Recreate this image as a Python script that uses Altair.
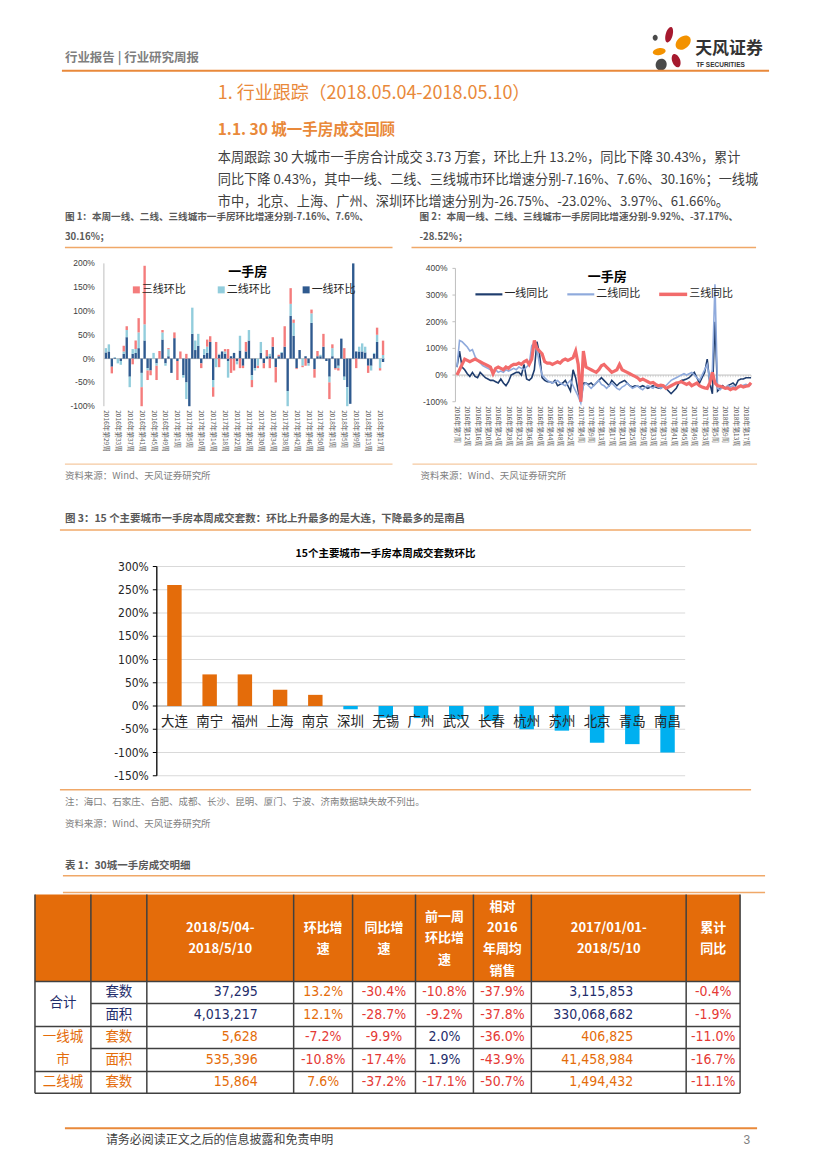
import altair as alt
import pandas as pd

# ======================================================================
# DATA
# ======================================================================
# --- 图1: 一手房环比 (stacked columns, %) ---
hb_week_labels = ["2016年第29周", "2016年第33周", "2016年第37周", "2016年第41周", "2016年第45周",
                  "2016年第49周", "2017年第1周", "2017年第5周", "2017年第10周", "2017年第14周",
                  "2017年第18周", "2017年第22周", "2017年第26周", "2017年第30周", "2017年第34周",
                  "2017年第38周", "2017年第42周", "2017年第46周", "2017年第50周", "2018年第1周",
                  "2018年第5周", "2018年第9周", "2018年第13周", "2018年第17周"]
hb_tier1 = [13, 15, -17, 2, 0, -5, 10, 45, -38, 10,
            12, 22, -30, 38, -20, -25, 0, -10, 0, 40,
            -10, 5, -30, 43, -5, 0, -35, -50, -100, 52,
            18, 27, -10, 8, 12, 35, -45, 0, 8, 15,
            10, -5, 5, 12, -5, 17, -15, 15, 38, -35,
            -20, 0, 12, -10, 5, 5, 25, -18, 5, 12,
            25, -68, 90, 48, -20, 18, 0, 5, -10, 75,
            -22, 5, 5, 25, -5, -38, 5, -20, -15, 42,
            -38, -60, -95, 200, 15, 15, 15, 13, -15, -15,
            10, 35, 0, -7.16]
hb_tier2 = [9, 15, 0, 1, -10, -8, 5, 15, -22, 10,
            8, 33, -30, 34, -5, 0, 12, -5, 0, 15,
            -5, 15, 0, 0, 0, 0, -5, -35, 0, 55,
            20, 25, 0, 12, 13, 0, -15, -18, 2, 0,
            5, -35, 0, 0, -7, 31, 0, 0, 22, -10,
            -5, -15, 23, 0, 0, 5, 0, 0, 0, 2,
            0, -32, 25, 27, 0, 0, -15, 0, -5, 20,
            0, 0, 3, 0, 0, -12, 17, 0, -5, 0,
            -7, -40, 0, 0, 0, 10, 17, 12, 0, -10,
            2, 15, -20, 7.6]
hb_tier3 = [0, 0, -14, 0, 0, 0, 12, 8, 0, -12,
            18, 30, -40, 123, -20, -10, 0, -30, 16, 5,
            0, 2, 0, 12, -40, 15, 0, 10, 0, 0,
            0, 0, -10, 0, 15, 12, -20, 35, -18, 0,
            5, 20, -30, -25, 0, -20, -5, 20, 0, -15,
            0, -5, 0, -10, 13, -20, 20, -32, 3, 0,
            43, 0, 33, 7, -2, 0, -3, -15, 0, 8,
            -18, 11, 0, 27, 0, -35, 8, -3, -5, 0,
            22, 0, 0, 0, -20, 0, 0, 0, -15, 0,
            0, 15, -5, 30.16]
hb_series = ["一线环比", "二线环比", "三线环比"]
hb_y_ticks = [200, 150, 100, 50, 0, -50, -100]

# --- 图2: 一手房同比 (lines, %) ---
yoy_week_labels = ["2016年第7周", "2016年第12周", "2016年第16周", "2016年第20周", "2016年第24周",
                   "2016年第28周", "2016年第32周", "2016年第36周", "2016年第40周", "2016年第44周",
                   "2016年第48周", "2016年第52周", "2017年第4周", "2017年第9周", "2017年第13周",
                   "2017年第17周", "2017年第21周", "2017年第25周", "2017年第29周", "2017年第33周",
                   "2017年第37周", "2017年第41周", "2017年第45周", "2017年第49周", "2017年第53周",
                   "2018年第5周", "2018年第9周", "2018年第13周", "2018年第17周"]
yoy_tier1 = [30, 90, 30, 20, 5, -5, 10, -5, -10, 10,
             0, -10, -15, -20, -20, -25, -30, -15, -30, -40,
             -25, 0, 5, 10, 10, 0, 40, -15, -20, -10,
             20, 125, 80, -10, -20, -25, -25, -30, -20, -40,
             -35, -30, -20, -40, -60, 20, -10, -60, -100, -30,
             -30, -35, -30, -40, -30, -20, -10, -20, -30, -40,
             -20, -30, -40, -30, -25, -20, -30, -40, -45, -40,
             -42, -45, -40, -45, -50, -45, -40, -45, -48, -50,
             -40, -50, -60, -70, -60, -50, -30, -20, -18, -15,
             -10, 0, 10, -10, -30, -10, 10, 60, -30, -70,
             200, -60, -50, -40, -50, -40, -35, -30, -40, -20,
             -15, -15, -10, -10, -9.92]
yoy_tier2 = [30, 130, 125, 115, 105, 90, 95, 70, 55, 45,
             35, 30, 25, 20, 15, 20, 10, 15, 10, 20,
             15, 20, 25, 20, 30, 25, 20, 30, 40, 110,
             120, 95, 40, 0, -10, -20, -25, -30, -25, -20,
             -30, -35, -40, -30, -20, -40, -60, -80, -105, -40,
             -30, -40, -50, -40, -30, -20, -35, -40, -50, -40,
             -30, -40, -50, -55, -45, -40, -30, -40, -50, -45,
             -40, -50, -55, -45, -40, -45, -50, -40, -45, -50,
             -45, -40, -30, -20, -15, -10, -5, 0, 5, 0,
             5, 10, 0, -10, -20, 0, 20, 40, -20, 20,
             340, -50, -55, -45, -50, -40, -45, -40, -50, -45,
             -40, -38, -35, -38, -37.17]
yoy_tier3 = [0, 20, 40, 60, 55, 50, 55, 60, 55, 50,
             45, 40, 35, 30, 5, 25, 30, 25, 20, 30,
             25, 35, 40, 40, 45, 40, 50, 55, 40, 60,
             130, 100, 90, 80, 50, 45, 45, 40, 45, 50,
             45, 55, 60, 55, 60, 65, 90, 40, -100, 90,
             30, 25, 20, 15, 10, 20, 35, 40, 30, 20,
             10, 15, 20, 40, 20, 15, 10, 5, 0, -5,
             -10, -20, -15, -20, -25, -30, -28, -35, -40, -38,
             -40, -50, -45, -40, -35, -30, -28, -25, -30, -35,
             -30, -40, -35, -30, -40, -45, -48, -50, -30, 10,
             -30, -40, -42, -45, -50, -48, -55, -50, -52, -45,
             -40, -45, -42, -40, -28.52]
yoy_series = ["一线同比", "二线同比", "三线同比"]
yoy_y_ticks = [400, 300, 200, 100, 0, -100]

# --- 图3: 15个主要城市一手房本周成交套数环比 (%) ---
city_names = ["大连", "南宁", "福州", "上海", "南京", "深圳", "无锡", "广州",
              "武汉", "长春", "杭州", "苏州", "北京", "青岛", "南昌"]
city_hb = [260, 68, 68, 35, 24, -7, -25, -26, -28, -32, -50, -53, -79, -82, -100]
city_y_ticks = [300, 250, 200, 150, 100, 50, 0, -50, -100, -150]

# --- 表1: 30城一手房成交明细 ---
tbl_group = ["合计", "一线城市", "二线城"]
tbl_measure = ["套数", "面积", "套数", "面积", "套数"]
tbl_week = ["37,295", "4,013,217", "5,628", "535,396", "15,864"]
tbl_hb = ["13.2%", "12.1%", "-7.2%", "-10.8%", "7.6%"]
tbl_yoy = ["-30.4%", "-28.7%", "-9.9%", "-17.4%", "-37.2%"]
tbl_prev_hb = ["-10.8%", "-9.2%", "2.0%", "1.9%", "-17.1%"]
tbl_vs2016 = ["-37.9%", "-37.8%", "-36.0%", "-43.9%", "-50.7%"]
tbl_cum = ["3,115,853", "330,068,682", "406,825", "41,458,984", "1,494,432"]
tbl_cum_yoy = ["-0.4%", "-1.9%", "-11.0%", "-16.7%", "-11.1%"]

# ======================================================================
# STYLE / LAYOUT HELPERS  (positions are page pixels, shifted to panel origin)
# ======================================================================
CJK = "Noto Sans CJK SC"
NARROW = "Liberation Sans Narrow, DejaVu Sans Condensed, Liberation Sans, sans-serif"
ORANGE_T = "#E9893A"
LINE_OR = "#F0A868"
GREY = "#595959"
NAVY_T = "#1F2D6B"
ORANGE_C = "#E46C0A"
RED_T = "#E53935"

# panel origins (page px) and sizes
OA, SA = (8, 8), (811, 242)
OB1, SB1 = (8, 250), (404, 240)
OB2, SB2 = (412, 250), (407, 240)
OC, SC = (8, 490), (811, 368)
OD, SD = (8, 858), (811, 300)


def X(o, v):
    return v - o[0]


def Y(o, v):
    return v - o[1]


def text_layer(o, items, size, color=GREY, weight="normal", align="left",
               baseline="middle", font=CJK, angle=0):
    df = pd.DataFrame([{"x": X(o, it[0]), "y": Y(o, it[1]), "t": it[2]} for it in items])
    return alt.Chart(df).mark_text(
        align=align, baseline=baseline, font=font, fontSize=size,
        fontWeight=weight, angle=angle, color=color
    ).encode(x=alt.X("x:Q", scale=None), y=alt.Y("y:Q", scale=None), text="t:N")


def rule_layer(o, segs, color, width=1.0):
    df = pd.DataFrame([{"x": X(o, a), "y": Y(o, b), "x2": X(o, c), "y2": Y(o, d)}
                       for a, b, c, d in segs])
    return alt.Chart(df).mark_rule(color=color, strokeWidth=width).encode(
        x=alt.X("x:Q", scale=None), y=alt.Y("y:Q", scale=None),
        x2="x2:Q", y2="y2:Q")


def rect_layer(o, boxes, color):
    df = pd.DataFrame([{"x": X(o, a), "y": Y(o, b), "x2": X(o, c), "y2": Y(o, d)}
                       for a, b, c, d in boxes])
    return alt.Chart(df).mark_rect(color=color).encode(
        x=alt.X("x:Q", scale=None), y=alt.Y("y:Q", scale=None),
        x2="x2:Q", y2="y2:Q")


def ellipse_path(ratio):
    a, c = ratio, 0.5523
    return (f"M0,-1 C{c*a:.3f},-1 {a:.3f},{-c} {a:.3f},0 C{a:.3f},{c} {c*a:.3f},1 0,1 "
            f"C{-c*a:.3f},1 {-a:.3f},{c} {-a:.3f},0 C{-a:.3f},{-c} {-c*a:.3f},-1 0,-1 Z")


# ======================================================================
# ROW A : header, headings, paragraph, captions of fig.1/2
# ======================================================================
A = []
# logo petals: (cx, cy, height, width, angle, colour)
for (cx, cy, hh, ww, ang, c) in [(670, 34, 16, 7, 15, "#A6192E"), (684, 42, 17, 12, 50, "#F39200"),
                                 (656, 37, 6, 5, 0, "#4A4A4A"), (660, 51, 13, 7, 80, "#F39200"),
                                 (662, 64, 12, 11, 20, "#4A4A4A"), (677, 60, 14, 8, 340, "#A6192E")]:
    A.append(alt.Chart(pd.DataFrame({"x": [X(OA, cx)], "y": [Y(OA, cy)]})).mark_point(
        shape=ellipse_path(ww / hh), size=hh * hh, angle=ang, filled=True, color=c,
        opacity=1, strokeWidth=0).encode(x=alt.X("x:Q", scale=None), y=alt.Y("y:Q", scale=None)))
A.append(text_layer(OA, [(696, 48, "天风证券")], 17, "#333333", weight="bold"))
A.append(text_layer(OA, [(697, 64, "TF SECURITIES")], 6.5, "#333333", weight="bold",
                    font="Liberation Sans"))
A.append(text_layer(OA, [(65, 57, "行业报告 | 行业研究周报")], 12.5, "#7F7F7F", weight="bold"))
A.append(rule_layer(OA, [(62, 70, 770, 70)], "#E9893A", 2))
A.append(text_layer(OA, [(218, 93, "1. 行业跟踪（2018.05.04-2018.05.10）")], 18, ORANGE_T))
A.append(text_layer(OA, [(218, 129, "1.1. 30 城一手房成交回顾")], 15.5, ORANGE_T, weight="bold"))
A.append(text_layer(OA, [
    (218, 157, "本周跟踪 30 大城市一手房合计成交 3.73 万套，环比上升 13.2%，同比下降 30.43%，累计"),
    (218, 180, "同比下降 0.43%，其中一线、二线、三线城市环比增速分别-7.16%、7.6%、30.16%；一线城"),
    (218, 202, "市中，北京、上海、广州、深圳环比增速分别为-26.75%、-23.02%、3.97%、61.66%。"),
], 13.2, "#404040"))
A.append(text_layer(OA, [
    (65, 216.5, "图 1：本周一线、二线、三线城市一手房环比增速分别-7.16%、7.6%、"),
    (65, 237, "30.16%；"),
    (420, 216.5, "图 2：本周一线、二线、三线城市一手房同比增速分别-9.92%、-37.17%、"),
    (420, 237, "-28.52%；"),
], 9.6, GREY, weight="bold"))
A.append(rule_layer(OA, [(65, 247, 393, 247), (412, 247, 757, 247)], LINE_OR, 1.5))
rowA = alt.layer(*A).properties(width=SA[0], height=SA[1])

# ======================================================================
# ROW B1 : 图1 stacked columns
# ======================================================================
o = OB1
C1 = ["#2F5A8F", "#92CDDC", "#F47C7C"]
rows1 = []
for i in range(len(hb_tier1)):
    for k, (s, vals) in enumerate(zip(hb_series, [hb_tier1, hb_tier2, hb_tier3])):
        rows1.append({"i": i, "s": s, "v": vals[i], "o": k})
df1 = pd.DataFrame(rows1)
n1 = len(hb_tier1)
x1 = alt.Scale(domain=list(range(n1)), range=[X(o, 104.5), X(o, 385)], paddingInner=0.2, paddingOuter=0.1)
y1 = alt.Scale(domain=[-100, 200], range=[Y(o, 406), Y(o, 263)], nice=False, zero=False)

B1 = []
B1.append(alt.Chart(pd.DataFrame({"v": [0]})).mark_rule(color="#BFBFBF").encode(
    y=alt.Y("v:Q", scale=y1, axis=None), x=alt.value(X(o, 104)), x2=alt.value(X(o, 385))))
B1.append(alt.Chart(df1).mark_bar().encode(
    x=alt.X("i:O", scale=x1, axis=None),
    y=alt.Y("v:Q", stack="zero", scale=y1, axis=None),
    color=alt.Color("s:N", scale=alt.Scale(domain=hb_series, range=C1), legend=None),
    order=alt.Order("o:Q")))
B1.append(alt.Chart(pd.DataFrame({"v": [0]})).mark_rule(color="#BFBFBF").encode(
    x=alt.value(X(o, 104)), y=alt.value(Y(o, 263)), y2=alt.value(Y(o, 406))))
B1.append(alt.Chart(pd.DataFrame({"i": list(range(0, 4 * len(hb_week_labels), 4)),
                                  "t": hb_week_labels})).mark_text(
    angle=90, align="left", baseline="middle", fontSize=6.6, font=CJK, color=GREY).encode(
    x=alt.X("i:O", scale=x1, axis=None), y=alt.value(Y(o, 410)), text="t:N"))
B1.append(alt.Chart(pd.DataFrame({"v": hb_y_ticks, "t": [f"{v}%" for v in hb_y_ticks]})).mark_text(
    align="right", baseline="middle", fontSize=8.5, font="Liberation Sans", color="#404040").encode(
    y=alt.Y("v:Q", scale=y1, axis=None), x=alt.value(X(o, 95)), text="t:N"))
# legend
B1.append(text_layer(o, [(248, 272, "一手房")], 13, "#000000", weight="bold", align="center"))
B1.append(rect_layer(o, [(133, 286, 140, 293)], C1[2]))
B1.append(rect_layer(o, [(218, 286, 225, 293)], C1[1]))
B1.append(rect_layer(o, [(303, 286, 310, 293)], C1[0]))
B1.append(text_layer(o, [(142, 289.5, "三线环比"), (227, 289.5, "二线环比"), (312, 289.5, "一线环比")],
                     11, "#262626"))
B1.append(rule_layer(o, [(65, 464, 393, 464)], "#F5C9A0", 1.2))
B1.append(text_layer(o, [(65, 476, "资料来源：Wind、天风证券研究所")], 9.5, "#7F7F7F"))
panelB1 = alt.layer(*B1).properties(width=SB1[0], height=SB1[1])

# ======================================================================
# ROW B2 : 图2 lines
# ======================================================================
o = OB2
C2 = ["#1F3D6E", "#8FAADC", "#F26B6B"]
SW2 = [1.6, 1.6, 3.2]
n2 = len(yoy_tier1)
x2s = alt.Scale(domain=[0, n2 - 1], range=[X(o, 456.5), X(o, 751)], nice=False, zero=False)
y2s = alt.Scale(domain=[-100, 400], range=[Y(o, 401.5), Y(o, 268)], nice=False, zero=False)
B2 = []
B2.append(alt.Chart(pd.DataFrame({"v": [0]})).mark_rule(color="#BFBFBF").encode(
    y=alt.Y("v:Q", scale=y2s, axis=None), x=alt.value(X(o, 455)), x2=alt.value(X(o, 751))))
B2.append(alt.Chart(pd.DataFrame({"j": list(range(n2)), "lo": [0] * n2, "hi": [-8] * n2})).mark_rule(
    color="#BFBFBF", strokeWidth=0.6).encode(
    x=alt.X("j:Q", scale=x2s, axis=None), y=alt.Y("lo:Q", scale=y2s, axis=None), y2="hi:Q"))
B2.append(alt.Chart(pd.DataFrame({"v": [0]})).mark_rule(color="#BFBFBF").encode(
    x=alt.value(X(o, 455)), y=alt.value(Y(o, 268)), y2=alt.value(Y(o, 401.5))))
B2.append(alt.Chart(pd.DataFrame({"v": yoy_y_ticks})).mark_rule(color="#BFBFBF").encode(
    y=alt.Y("v:Q", scale=y2s, axis=None), x=alt.value(X(o, 452)), x2=alt.value(X(o, 455))))
for s, vals, c, sw in zip(yoy_series, [yoy_tier1, yoy_tier2, yoy_tier3], C2, SW2):
    d = pd.DataFrame({"j": list(range(n2)), "v": vals})
    B2.append(alt.Chart(d).mark_line(color=c, strokeWidth=sw).encode(
        x=alt.X("j:Q", scale=x2s, axis=None), y=alt.Y("v:Q", scale=y2s, axis=None)))
B2.append(alt.Chart(pd.DataFrame({"j": list(range(0, 4 * len(yoy_week_labels), 4)),
                                  "t": yoy_week_labels})).mark_text(
    angle=90, align="left", baseline="middle", fontSize=6.4, font=CJK, color=GREY).encode(
    x=alt.X("j:Q", scale=x2s, axis=None), y=alt.value(Y(o, 406)), text="t:N"))
B2.append(alt.Chart(pd.DataFrame({"v": yoy_y_ticks, "t": [f"{v}%" for v in yoy_y_ticks]})).mark_text(
    align="right", baseline="middle", fontSize=8.5, font="Liberation Sans", color="#404040").encode(
    y=alt.Y("v:Q", scale=y2s, axis=None), x=alt.value(X(o, 447)), text="t:N"))
# legend
B2.append(text_layer(o, [(607, 276.5, "一手房")], 13, "#000000", weight="bold", align="center"))
B2.append(rule_layer(o, [(475, 294, 502, 294)], C2[0], 2.2))
B2.append(rule_layer(o, [(567, 294, 594, 294)], C2[1], 2.2))
B2.append(rule_layer(o, [(659, 294, 687, 294)], C2[2], 3.5))
B2.append(text_layer(o, [(504, 294, "一线同比"), (596, 294, "二线同比"), (689, 294, "三线同比")],
                     11, "#262626"))
B2.append(rule_layer(o, [(412, 464, 757, 464)], "#F5C9A0", 1.2))
B2.append(text_layer(o, [(420, 476, "资料来源：Wind、天风证券研究所")], 9.5, "#7F7F7F"))
panelB2 = alt.layer(*B2).properties(width=SB2[0], height=SB2[1])

# ======================================================================
# ROW C : 图3 city bars
# ======================================================================
o = OC
df3 = pd.DataFrame({"city": city_names, "v": city_hb})
x3 = alt.Scale(domain=city_names, range=[X(o, 157), X(o, 686)], paddingInner=0.59, paddingOuter=0.295)
y3 = alt.Scale(domain=[-150, 300], range=[Y(o, 776), Y(o, 566.5)], nice=False, zero=False)
Cc = []
Cc.append(text_layer(o, [(65, 519, "图 3：15 个主要城市一手房本周成交套数：环比上升最多的是大连，下降最多的是南昌")],
                     10.5, GREY, weight="bold"))
Cc.append(rule_layer(o, [(60, 530, 752, 530), (60, 790, 752, 790)], LINE_OR, 1.5))
Cc.append(alt.Chart(pd.DataFrame({"v": city_y_ticks})).mark_rule(color="#D9D9D9", strokeWidth=1.2).encode(
    y=alt.Y("v:Q", scale=y3, axis=None), x=alt.value(X(o, 157)), x2=alt.value(X(o, 686))))
Cc.append(alt.Chart(pd.DataFrame({"v": [0]})).mark_rule(color="#A6A6A6", strokeWidth=1.2).encode(
    y=alt.Y("v:Q", scale=y3, axis=None), x=alt.value(X(o, 157)), x2=alt.value(X(o, 686))))
Cc.append(alt.Chart(df3).mark_bar().encode(
    x=alt.X("city:N", scale=x3, sort=city_names, axis=None),
    y=alt.Y("v:Q", scale=y3, axis=None),
    color=alt.condition("datum.v > 0", alt.value("#E46C0A"), alt.value("#00B0F0"))))
Cc.append(alt.Chart(pd.DataFrame({"v": [0]})).mark_rule(color="#000000", strokeWidth=1.3).encode(
    x=alt.value(X(o, 157)), y=alt.value(Y(o, 566.5)), y2=alt.value(Y(o, 776))))
Cc.append(alt.Chart(pd.DataFrame({"v": city_y_ticks})).mark_rule(color="#000000").encode(
    y=alt.Y("v:Q", scale=y3, axis=None), x=alt.value(X(o, 153)), x2=alt.value(X(o, 157))))
Cc.append(alt.Chart(df3).mark_text(align="center", baseline="middle", fontSize=13.5, font=CJK,
                                   color="#262626").encode(
    x=alt.X("city:N", scale=x3, sort=city_names, axis=None), y=alt.value(Y(o, 722)), text="city:N"))
Cc.append(alt.Chart(pd.DataFrame({"v": city_y_ticks, "t": [f"{v}%" for v in city_y_ticks]})).mark_text(
    align="right", baseline="middle", fontSize=12, font=NARROW, color="#262626").encode(
    y=alt.Y("v:Q", scale=y3, axis=None), x=alt.value(X(o, 149)), text="t:N"))
Cc.append(text_layer(o, [(386, 554, "15个主要城市一手房本周成交套数环比")], 10.5, "#000000",
                     weight="bold", align="center"))
Cc.append(text_layer(o, [(65, 802, "注：海口、石家庄、合肥、成都、长沙、昆明、厦门、宁波、济南数据缺失故不列出。"),
                         (65, 824, "资料来源：Wind、天风证券研究所")], 9.5, "#7F7F7F"))
rowC = alt.layer(*Cc).properties(width=SC[0], height=SC[1])

# ======================================================================
# ROW D : 表1 + footer
# ======================================================================
o = OD
D = []
D.append(text_layer(o, [(65, 866, "表 1：30城一手房成交明细")], 10.5, GREY, weight="bold"))
D.append(rule_layer(o, [(63, 876, 766, 876), (63, 893, 766, 893)], LINE_OR, 1.5))
col_x = [35, 91, 147, 294, 353, 416, 474, 532, 687, 741]
row_y = [895, 982, 1004, 1027, 1049, 1072, 1094]
row_c = [993, 1015.5, 1038, 1060.5, 1083]
D.append(rect_layer(o, [(col_x[0], row_y[0], col_x[-1], row_y[1])], ORANGE_C))
vsegs = [(xv, row_y[0], xv, row_y[-1]) for xv in col_x]
hsegs = [(col_x[0], row_y[1], col_x[-1], row_y[1]),
         (col_x[1], row_y[2], col_x[-1], row_y[2]),
         (col_x[0], row_y[3], col_x[-1], row_y[3]),
         (col_x[1], row_y[4], col_x[-1], row_y[4]),
         (col_x[0], row_y[5], col_x[-1], row_y[5]),
         (col_x[0], row_y[6], col_x[-1], row_y[6])]
D.append(rule_layer(o, vsegs + hsegs, "#404040", 1.5))
hdr = [
    (220.5, 928, "2018/5/04-"), (220.5, 949, "2018/5/10"),
    (323.5, 928, "环比增"), (323.5, 949, "速"),
    (384.5, 928, "同比增"), (384.5, 949, "速"),
    (445, 917, "前一周"), (445, 938, "环比增"), (445, 960, "速"),
    (503, 907, "相对"), (503, 928, "2016"), (503, 949, "年周均"), (503, 971, "销售"),
    (609.5, 928, "2017/01/01-"), (609.5, 949, "2018/5/10"),
    (714, 928, "累计"), (714, 949, "同比"),
]
D.append(text_layer(o, hdr, 13, "#FFFFFF", weight="bold", align="center"))

row_col = [NAVY_T, NAVY_T, ORANGE_C, ORANGE_C, ORANGE_C]
cn_items = {NAVY_T: [(63, 1004, tbl_group[0])],
            ORANGE_C: [(63, 1038, tbl_group[1][:3]), (63, 1060.5, tbl_group[1][3:]),
                       (63, 1083, tbl_group[2])]}
num_right = {NAVY_T: [], ORANGE_C: [], RED_T: []}
num_center = {NAVY_T: [], ORANGE_C: [], RED_T: []}
for r in range(5):
    cn_items[row_col[r]].append((119, row_c[r], tbl_measure[r]))
    num_right[row_col[r]].append((258, row_c[r], tbl_week[r]))
    num_right[row_col[r]].append((634, row_c[r], tbl_cum[r]))
    num_center[RED_T if tbl_hb[r].startswith("-") else ORANGE_C].append((323.5, row_c[r], tbl_hb[r]))
    num_center[RED_T].append((384.5, row_c[r], tbl_yoy[r]))
    num_center[RED_T if tbl_prev_hb[r].startswith("-") else NAVY_T].append((445, row_c[r], tbl_prev_hb[r]))
    num_center[RED_T].append((503, row_c[r], tbl_vs2016[r]))
    num_center[RED_T].append((714, row_c[r], tbl_cum_yoy[r]))
for c, items in cn_items.items():
    if items:
        D.append(text_layer(o, items, 13.5, c, align="center"))
for c, items in num_right.items():
    if items:
        D.append(text_layer(o, items, 14, c, align="right", font=NARROW))
for c, items in num_center.items():
    if items:
        D.append(text_layer(o, items, 14, c, align="center", font=NARROW))
D.append(rule_layer(o, [(65, 1129, 758, 1129)], "#E9893A", 2))
D.append(text_layer(o, [(106, 1141, "请务必阅读正文之后的信息披露和免责申明")], 12, "#404040"))
D.append(text_layer(o, [(751, 1141, "3")], 12, "#7F7F7F", align="right", font="Liberation Sans"))
rowD = alt.layer(*D).properties(width=SD[0], height=SD[1])

# ======================================================================
rowB = alt.hconcat(panelB1, panelB2, spacing=0)
chart = alt.vconcat(rowA, rowB, rowC, rowD, spacing=0).properties(
    padding=0, background="white").configure_view(stroke=None)

chart.save("out.html", embed_options={"renderer": "svg", "actions": False})
